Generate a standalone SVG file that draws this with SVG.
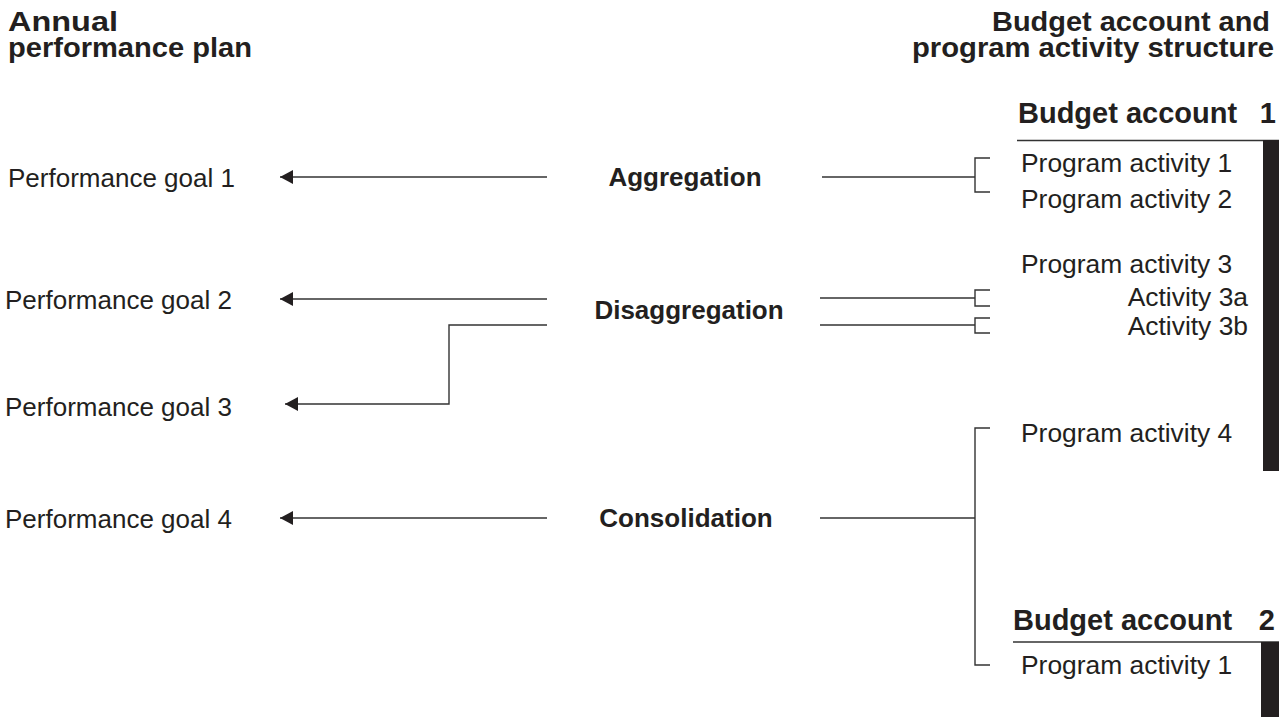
<svg xmlns="http://www.w3.org/2000/svg" width="1279" height="717" viewBox="0 0 1279 717">
<style>
text{font-family:"Liberation Sans",Arial,sans-serif;fill:#231f20}
.h{font-size:29px;font-weight:bold}
.hd{font-size:27px;font-weight:bold}
.b{font-size:26px;font-weight:bold}
.r{font-size:26px}
.p{font-size:26.4px}
.ln{stroke:#333;stroke-width:1.4;fill:none}
.bar{fill:#231f20}
</style>
<defs>
<marker id="ah" markerUnits="userSpaceOnUse" markerWidth="14" markerHeight="14" refX="13" refY="7" orient="auto">
<path d="M0,0 L13,7 L0,14 z" fill="#231f20"/>
</marker>
</defs>
<rect width="1279" height="717" fill="#fff"/>
<g id="header-left"><text class="hd" x="8" y="31" textLength="110" lengthAdjust="spacingAndGlyphs">Annual</text><text class="hd" x="8" y="57" textLength="244" lengthAdjust="spacingAndGlyphs">performance plan</text></g>
<g id="header-right"><text class="hd" x="992" y="31" textLength="278" lengthAdjust="spacingAndGlyphs">Budget account and</text><text class="hd" x="912" y="57" textLength="362" lengthAdjust="spacingAndGlyphs">program activity structure</text></g>
<g id="goal1"><text class="r" x="8" y="187">Performance goal 1</text></g>
<g id="goal2"><text class="r" x="5" y="309">Performance goal 2</text></g>
<g id="goal3"><text class="r" x="5" y="416">Performance goal 3</text></g>
<g id="goal4"><text class="r" x="5" y="528">Performance goal 4</text></g>
<g id="aggregation"><text class="b" x="685" y="186" text-anchor="middle">Aggregation</text></g>
<g id="disaggregation"><text class="b" x="689" y="319" text-anchor="middle">Disaggregation</text></g>
<g id="consolidation"><text class="b" x="686" y="527" text-anchor="middle">Consolidation</text></g>
<g id="budget-account-1">
<text class="h" x="1018" y="123">Budget account</text><text class="h" x="1276" y="123" text-anchor="end">1</text>
<line class="ln" x1="1017" y1="140.5" x2="1279" y2="140.5"/>
<rect class="bar" x="1263" y="140" width="16" height="331"/>
<text class="p" x="1021" y="172">Program activity 1</text>
<text class="p" x="1021" y="208">Program activity 2</text>
<text class="p" x="1021" y="273">Program activity 3</text>
<text class="p" x="1248" y="306" text-anchor="end">Activity 3a</text>
<text class="p" x="1248" y="335" text-anchor="end">Activity 3b</text>
<text class="p" x="1021" y="442">Program activity 4</text>
</g>
<g id="budget-account-2">
<text class="h" x="1013" y="630">Budget account</text><text class="h" x="1275" y="630" text-anchor="end">2</text>
<line class="ln" x1="1013" y1="642" x2="1279" y2="642"/>
<rect class="bar" x="1261" y="642" width="18" height="75"/>
<text class="p" x="1021" y="674">Program activity 1</text>
</g>
<g id="connectors">
<line class="ln" x1="547" y1="177" x2="280" y2="177" marker-end="url(#ah)"/>
<line class="ln" x1="547" y1="299" x2="280" y2="299" marker-end="url(#ah)"/>
<polyline class="ln" points="547,325 449,325 449,404 285,404" marker-end="url(#ah)"/>
<line class="ln" x1="547" y1="518" x2="280" y2="518" marker-end="url(#ah)"/>
<line class="ln" x1="822" y1="177" x2="975" y2="177"/>
<polyline class="ln" points="990,158 975,158 975,192 990,192"/>
<line class="ln" x1="820" y1="298" x2="975" y2="298"/>
<polyline class="ln" points="990,290 975,290 975,306 990,306"/>
<line class="ln" x1="820" y1="325" x2="975" y2="325"/>
<polyline class="ln" points="990,318 975,318 975,333 990,333"/>
<line class="ln" x1="820" y1="518" x2="975" y2="518"/>
<polyline class="ln" points="990,428 975,428 975,665 990,665"/>
</g>
</svg>
